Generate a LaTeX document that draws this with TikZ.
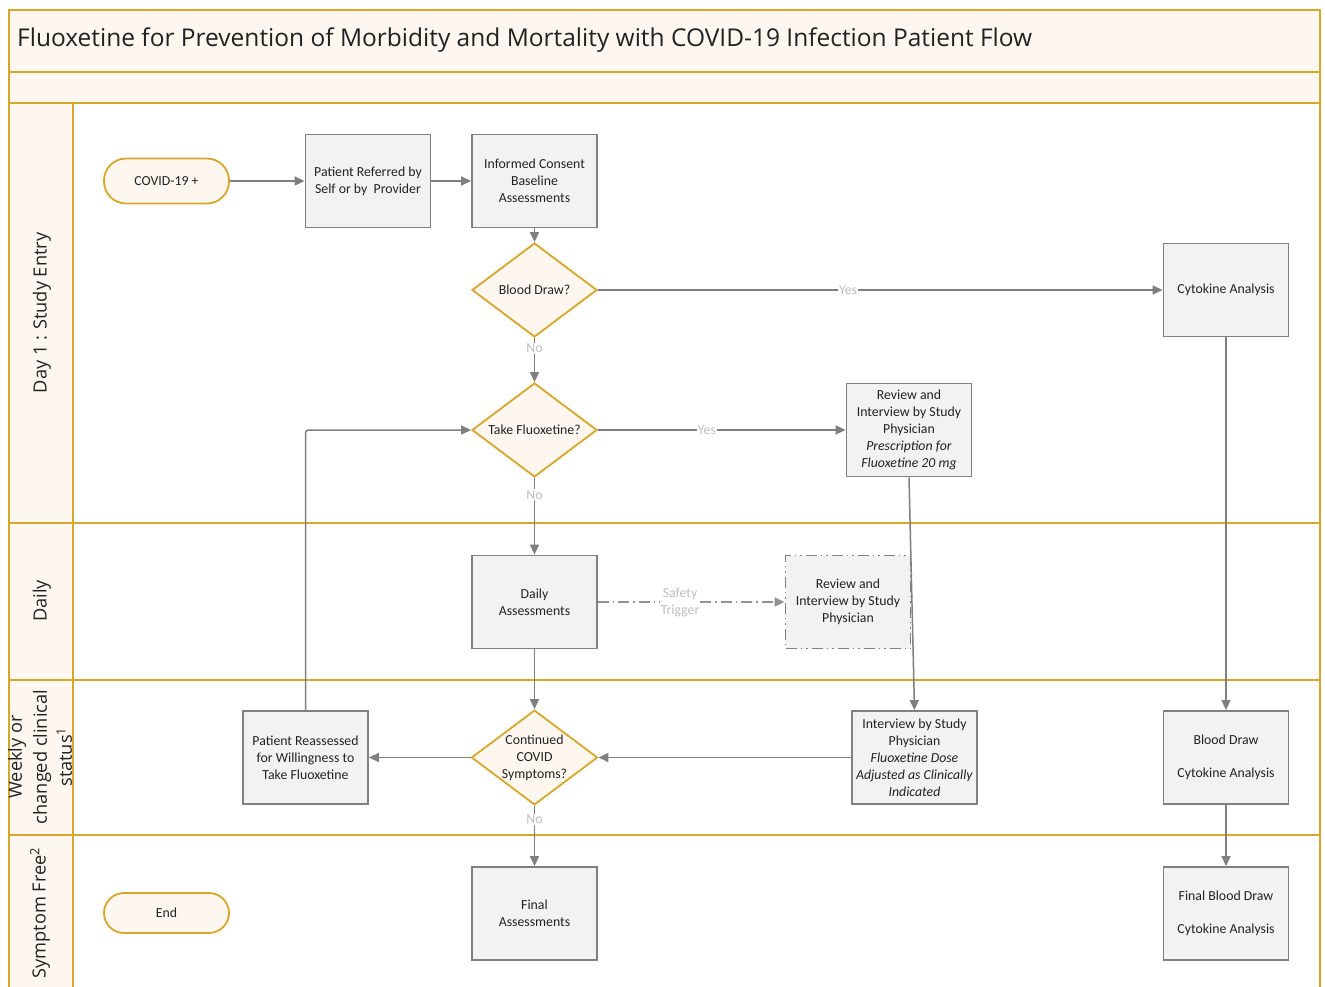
\documentclass[tikz,border=0pt]{standalone}
\usepackage{fontspec}
\setmainfont{Carlito}
\newfontfamily\lanefont{Open Sans}
\usetikzlibrary{shapes.geometric,arrows.meta}
\definecolor{gold}{HTML}{D6A72A}
\definecolor{cream}{HTML}{FDF7EF}
\definecolor{boxfill}{HTML}{F2F2F2}
\definecolor{boxline}{HTML}{808080}
\definecolor{flowgray}{HTML}{7F7F7F}
\definecolor{lblgray}{HTML}{BDBDBD}
\definecolor{txt}{HTML}{222222}
\tikzset{
  lane/.style={gold, line width=2.4pt},
  box/.style={draw=boxline, fill=boxfill, line width=1.8pt, minimum width=125pt, minimum height=93pt,
    inner sep=1pt, align=center, text=txt, font=\fontsize{13.8}{17}\selectfont},
  dbox/.style={box, draw=boxline, dash pattern=on 11pt off 4pt on 1.5pt off 4pt on 1.5pt off 4pt},
  term/.style={draw=gold, fill=cream, line width=1.8pt, rounded corners=22pt, minimum width=125pt,
    minimum height=45pt, text=txt, font=\fontsize{13.8}{17}\selectfont},
  decision/.style={diamond, draw=gold, fill=cream, line width=1.8pt, aspect=1.33, minimum width=125pt,
    minimum height=94pt, inner sep=0pt, align=center, text=txt, font=\fontsize{13.8}{17}\selectfont},
  flow/.style={draw=flowgray, line width=1.5pt, -{Triangle[length=10pt,width=9pt]}},
  lbl/.style={fill=white, text=lblgray, inner sep=1pt, font=\fontsize{13.8}{17}\selectfont, align=center},
  lanelbl/.style={rotate=90, text=txt, font=\lanefont\fontsize{18.2}{25}\selectfont, align=center}
}
\begin{document}
\begin{tikzpicture}[x=1pt,y=-1pt]
\clip (0,0) rectangle (1325,987);
\fill[white] (0,0) rectangle (1325,987);
% bands
\fill[cream] (9,10) rectangle (1320,103);
\fill[cream] (9,103) rectangle (73,1000);
\draw[lane] (9,1000) -- (9,10) -- (1320,10) -- (1320,1000);
\draw[lane] (9,72) -- (1320,72);
\draw[lane] (9,103) -- (1320,103);
\draw[lane] (9,523) -- (1320,523);
\draw[lane] (9,680) -- (1320,680);
\draw[lane] (9,835) -- (1320,835);
\draw[lane] (73,103) -- (73,1000);
% title
\node[anchor=west, text=txt, font=\lanefont\fontsize{24.5}{28}\selectfont, inner sep=0pt] (title) at (17,40)
  {Fluoxetine for Prevention of Morbidity and Mortality with COVID-19 Infection Patient Flow};
% lane labels
\node[lanelbl] (l1) at (42,313) {Day 1 : Study Entry};
\node[lanelbl] (l2) at (42,601) {Daily};
\node[lanelbl] (l3) at (40,757) {Weekly or\\changed clinical\\status\textsuperscript{1}};
\node[lanelbl] (l4) at (40,913) {Symptom Free\textsuperscript{2}};
% nodes
\node[term] (covid) at (166.5,181) {COVID-19 +};
\node[box] (ref) at (368,181) {Patient Referred by\\Self or by~~Provider};
\node[box] (cons) at (534.5,181) {Informed Consent\\Baseline\\Assessments};
\node[decision] (bd) at (534.5,290) {Blood Draw?};
\node[box] (cyt) at (1226,290) {Cytokine Analysis};
\node[decision] (take) at (534.5,430) {Take Fluoxetine?};
\node[box] (rev) at (909,430) {Review and\\Interview by Study\\Physician\\\textit{Prescription for}\\\textit{Fluoxetine 20 mg}};
\node[box] (daily) at (534.5,602) {Daily\\Assessments};
\node[dbox] (rev2) at (848,602) {Review and\\Interview by Study\\Physician};
\node[box] (rea) at (305.5,757.5) {Patient Reassessed\\for Willingness to\\Take Fluoxetine};
\node[decision] (cont) at (534.5,757.5) {Continued\\COVID\\Symptoms?};
\node[box] (intv) at (914.5,757.5) {Interview by Study\\Physician\\\textit{Fluoxetine Dose}\\\textit{Adjusted as Clinically}\\\textit{Indicated}};
\node[box] (bdraw) at (1226,757.5) {Blood Draw\\[16pt]Cytokine Analysis};
\node[term, minimum height=40pt, rounded corners=20pt] (end) at (166.5,913) {End};
\node[box] (fin) at (534.5,913.5) {Final\\Assessments};
\node[box] (fbd) at (1226,913.5) {Final Blood Draw\\[16pt]Cytokine Analysis};
% connectors
\draw[flow] (covid) -- (ref);
\draw[flow] (ref) -- (cons);
\draw[flow] (cons) -- (bd);
\draw[flow] (bd) -- node[lbl, pos=0.443] {Yes} (cyt);
\draw[flow] (bd) -- node[lbl, pos=0.24] {No} (take);
\draw[flow] (take) -- node[lbl, pos=0.44] {Yes} (rev);
\draw[flow] (take) -- node[lbl, pos=0.22] {No} (daily);
\draw[flow, draw=boxline!85, dash pattern=on 11pt off 4pt on 1.5pt off 4pt] (daily) -- node[lbl, pos=0.44] {Safety\\Trigger} (rev2);
\draw[flow] (rev.south) -- (intv.north);
\draw[flow] (daily) -- (cont);
\draw[flow] (intv) -- (cont);
\draw[flow] (cont) -- (rea);
\draw[flow, rounded corners=3pt] (rea.north) |- (take.west);
\draw[flow] (cont) -- node[lbl, pos=0.22] {No} (fin);
\draw[flow] (cyt) -- (bdraw);
\draw[flow] (bdraw) -- (fbd);
\end{tikzpicture}
\end{document}
